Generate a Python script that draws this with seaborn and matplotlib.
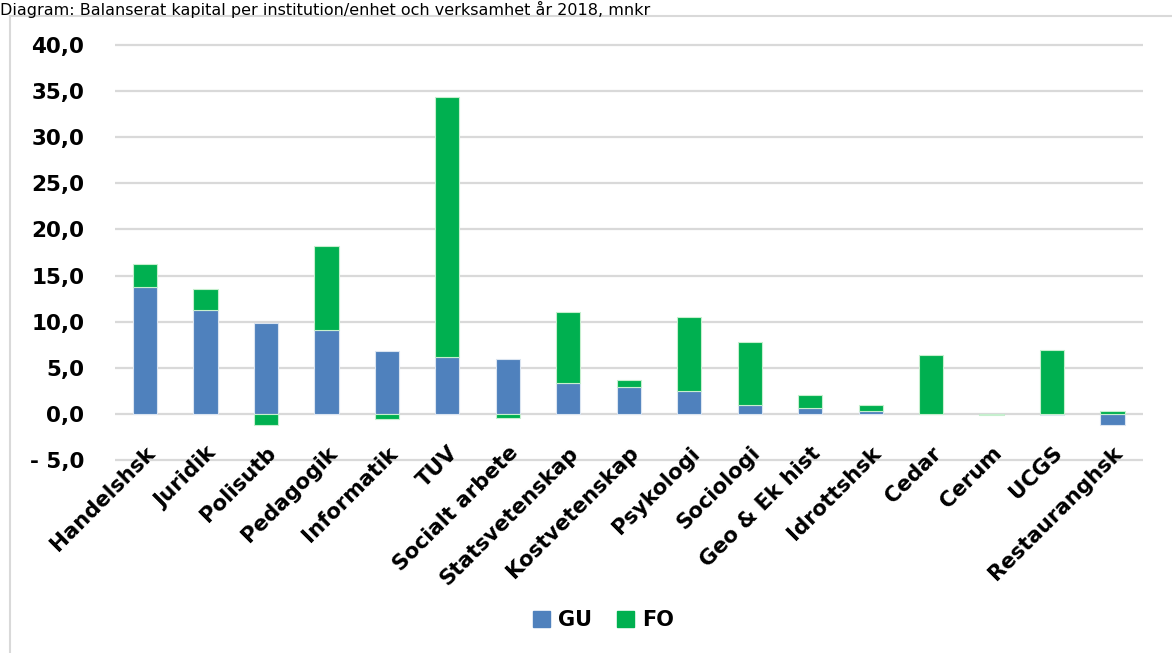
import numpy as np
import pandas as pd
import seaborn as sns
import matplotlib.pyplot as plt
from matplotlib.patches import Rectangle

categories = ['Handelshsk', 'Juridik', 'Polisutb', 'Pedagogik', 'Informatik', 'TUV',
              'Socialt arbete', 'Statsvetenskap', 'Kostvetenskap', 'Psykologi', 'Sociologi',
              'Geo & Ek hist', 'Idrottshsk', 'Cedar', 'Cerum', 'UCGS', 'Restauranghsk']
gu = [13.8, 11.3, 9.9, 9.1, 6.8, 6.2, 5.9, 3.4, 2.9, 2.5, 1.0, 0.6, 0.3, 0.0, 0.0, -0.1, -1.2]
fo = [2.4, 2.2, -1.2, 9.1, -0.6, 28.2, -0.4, 7.7, 0.8, 8.0, 6.8, 1.4, 0.7, 6.4, -0.15, 6.9, 0.3]
yticks = [-5, 0, 5, 10, 15, 20, 25, 30, 35, 40]
ytick_labels = ['- 5,0', '0,0', '5,0', '10,0', '15,0', '20,0', '25,0', '30,0', '35,0', '40,0']

blue = '#4F81BD'
green = '#00B050'

df = pd.DataFrame({'cat': categories, 'GU': gu, 'FO': fo})
# diverging stacking: FO sits on GU only if both have same sign
df['fo_bottom'] = np.where((df['GU'] > 0) & (df['FO'] > 0), df['GU'],
                           np.where((df['GU'] < 0) & (df['FO'] < 0), df['GU'], 0))

sns.set_style('white')
plt.rcParams['font.family'] = ['DejaVu Sans']
plt.rcParams['text.color'] = 'black'
plt.rcParams['xtick.color'] = 'black'
plt.rcParams['ytick.color'] = 'black'

fig = plt.figure(figsize=(11.72, 6.53), dpi=100)
ax = fig.add_axes([0.098, 1 - 465 / 653, 0.877, 425 / 653])

sns.barplot(data=df, x='cat', y='GU', color=blue, width=0.4, ax=ax,
            edgecolor='#dbe5f1', linewidth=0.8, zorder=3, saturation=1)
sns.barplot(data=df, x='cat', y='FO', color=green, width=0.4, ax=ax,
            bottom=df['fo_bottom'].values, edgecolor='#c6efce', linewidth=0.8,
            zorder=3, saturation=1)

ax.set_ylim(-5.54, 40.54)
ax.set_xlim(-0.5, len(categories) - 0.5)
ax.set_yticks(yticks)
ax.set_yticklabels(ytick_labels, fontsize=15.5, fontweight='bold')
for y in yticks:
    ax.axhline(y, color='#D9D9D9', linewidth=1.6, zorder=0.2)
ax.set_xticks(range(len(categories)))
ax.set_xticklabels(categories, rotation=45, ha='right', rotation_mode='anchor',
                   fontsize=15.3, fontweight='bold')
ax.tick_params(axis='x', pad=-16, length=0)
ax.tick_params(axis='y', pad=22, length=0)
ax.set_xlabel('')
ax.set_ylabel('')
sns.despine(ax=ax, left=True, bottom=True)

# chart border (partly visible)
fig.patches.append(Rectangle((10 / 1172, -0.1), 1.2, 1 - 16 / 653 + 0.1,
                             transform=fig.transFigure, fill=False,
                             edgecolor='#D9D9D9', linewidth=1.5))

fig.text(0.0, 1 - 15 / 653, 'Diagram: Balanserat kapital per institution/enhet och verksamhet år 2018, mnkr',
         fontsize=11.5, va='baseline', ha='left')

handles = [Rectangle((0, 0), 1, 1, color=blue), Rectangle((0, 0), 1, 1, color=green)]
fig.legend(handles, ['GU', 'FO'], loc='center', bbox_to_anchor=(0.515, 1 - 620 / 653),
           ncol=2, frameon=False, prop={'weight': 'bold', 'size': 15},
           handlelength=0.8, handleheight=0.8, handletextpad=0.4, columnspacing=1.2)

fig.savefig('out.png', dpi=100)
